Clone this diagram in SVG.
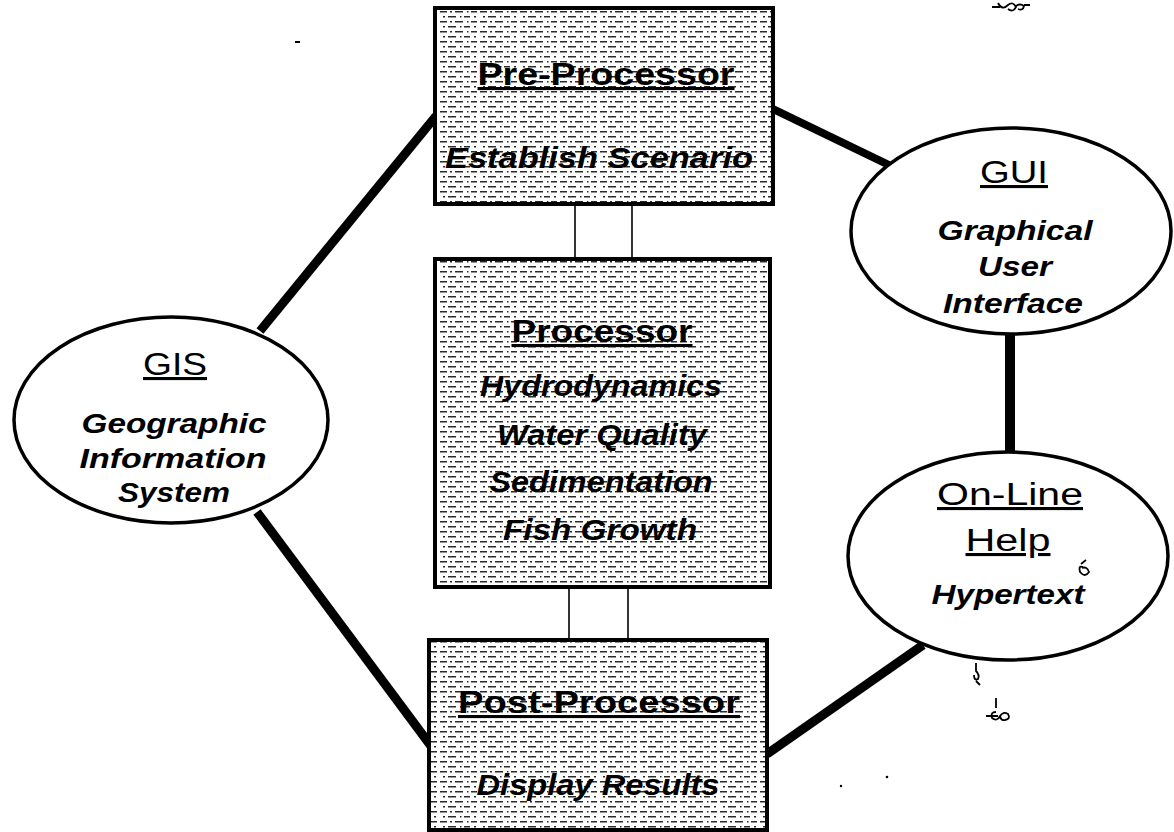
<svg xmlns="http://www.w3.org/2000/svg" width="1174" height="832" viewBox="0 0 1174 832">
  <defs>
    <!-- halftone screen of broken horizontal rows used inside the processing boxes -->
    <pattern id="screen" width="40" height="10" patternUnits="userSpaceOnUse">
      <rect width="40" height="10" fill="#ffffff"/>
      <g fill="#2a2a2a">
        <rect x="0" y="1" width="7" height="1.5"/>
        <rect x="10" y="1" width="2" height="1.5"/>
        <rect x="15" y="1" width="8" height="1.5"/>
        <rect x="27" y="1" width="1.5" height="1.5"/>
        <rect x="31" y="1" width="6" height="1.5"/>
        <rect x="3" y="6" width="2" height="1.5"/>
        <rect x="8" y="6" width="8" height="1.5"/>
        <rect x="20" y="6" width="1.5" height="1.5"/>
        <rect x="24" y="6" width="6" height="1.5"/>
        <rect x="34" y="6" width="2" height="1.5"/>
      </g>
    </pattern>
    <style>
      .box { fill: url(#screen); stroke: #000; stroke-width: 4; }
      .oval { fill: #fff; stroke: #000; stroke-width: 3.5; }
      .link { stroke: #000; stroke-width: 9; stroke-linecap: butt; fill: none; }
      .thin { stroke: #000; stroke-width: 1.6; fill: none; }
      text { font-family: "Liberation Sans", Arial, sans-serif; fill: #000; text-anchor: middle; }
      .btitle { font-size: 31px; font-weight: bold; text-decoration: underline; }
      .bsub { font-size: 30px; font-weight: bold; font-style: italic; }
      .otitle { font-size: 31px; text-decoration: underline; }
      .osub { font-size: 28px; font-weight: bold; font-style: italic; }
      .speck { fill: none; stroke: #000; stroke-width: 1.8; }
    </style>
  </defs>

  <!-- connectors -->
  <g id="connectors">
    <line class="link" x1="260" y1="331" x2="436" y2="116"/>
    <line class="link" x1="257" y1="512" x2="431" y2="746"/>
    <line class="link" x1="773" y1="109" x2="891" y2="166" style="stroke-width:8"/>
    <line class="link" x1="1010" y1="334" x2="1010" y2="453" style="stroke-width:10"/>
    <line class="link" x1="923" y1="645" x2="767" y2="754"/>
    <line class="thin" x1="575" y1="204" x2="575" y2="259"/>
    <line class="thin" x1="632" y1="204" x2="632" y2="259"/>
    <line class="thin" x1="569" y1="587" x2="569" y2="640"/>
    <line class="thin" x1="628" y1="587" x2="628" y2="640"/>
  </g>

  <g id="pre-processor">
    <rect class="box" x="435" y="8" width="338" height="196"/>
    <text class="btitle" x="606" y="85" textLength="257" lengthAdjust="spacingAndGlyphs">Pre-Processor</text>
    <text class="bsub" x="599" y="168" textLength="308" lengthAdjust="spacingAndGlyphs">Establish Scenario</text>
  </g>

  <g id="processor">
    <rect class="box" x="435" y="259" width="335" height="328"/>
    <text class="btitle" x="602" y="342" textLength="181" lengthAdjust="spacingAndGlyphs">Processor</text>
    <text class="bsub" x="601" y="396" textLength="242" lengthAdjust="spacingAndGlyphs">Hydrodynamics</text>
    <text class="bsub" x="602" y="445" textLength="210" lengthAdjust="spacingAndGlyphs">Water Quality</text>
    <text class="bsub" x="601" y="492" textLength="223" lengthAdjust="spacingAndGlyphs">Sedimentation</text>
    <text class="bsub" x="600" y="540" textLength="194" lengthAdjust="spacingAndGlyphs">Fish Growth</text>
  </g>

  <g id="post-processor">
    <rect class="box" x="429" y="640" width="338" height="190"/>
    <text class="btitle" x="599" y="713" textLength="282" lengthAdjust="spacingAndGlyphs">Post-Processor</text>
    <text class="bsub" x="598" y="795" textLength="243" lengthAdjust="spacingAndGlyphs">Display Results</text>
  </g>

  <g id="gis">
    <ellipse class="oval" cx="171" cy="420" rx="157" ry="103"/>
    <text class="otitle" x="175" y="375" textLength="64" lengthAdjust="spacingAndGlyphs">GIS</text>
    <text class="osub" x="174" y="433" textLength="185" lengthAdjust="spacingAndGlyphs">Geographic</text>
    <text class="osub" x="173" y="468" textLength="187" lengthAdjust="spacingAndGlyphs">Information</text>
    <text class="osub" x="174" y="502" textLength="112" lengthAdjust="spacingAndGlyphs">System</text>
  </g>

  <g id="gui">
    <ellipse class="oval" cx="1011" cy="231" rx="160" ry="103"/>
    <text class="otitle" x="1014" y="183" textLength="68" lengthAdjust="spacingAndGlyphs">GUI</text>
    <text class="osub" x="1015" y="240" textLength="155" lengthAdjust="spacingAndGlyphs">Graphical</text>
    <text class="osub" x="1015" y="276" textLength="74" lengthAdjust="spacingAndGlyphs">User</text>
    <text class="osub" x="1013" y="313" textLength="140" lengthAdjust="spacingAndGlyphs">Interface</text>
  </g>

  <g id="online-help">
    <ellipse class="oval" cx="1008" cy="556" rx="160" ry="104"/>
    <text class="otitle" x="1010" y="505" textLength="146" lengthAdjust="spacingAndGlyphs">On-Line</text>
    <text class="otitle" x="1008" y="551" textLength="85" lengthAdjust="spacingAndGlyphs">Help</text>
    <text class="osub" x="1008" y="604" textLength="153" lengthAdjust="spacingAndGlyphs">Hypertext</text>
  </g>

  <!-- stray pen marks -->
  <g id="marks">
    <path class="speck" d="M992 7 h8 M998 3 q4 8 10 2 q5 -4 8 2 q-3 6 -8 2 M1016 6 q4 -3 8 0 q-1 5 -6 3 M1024 5 h6"/>
    <path class="speck" d="M1084 568 q-6 -4 -4 4 q5 6 9 0 q-2 -6 -7 -4 M1081 564 l5 -4"/>
    <path class="speck" d="M976 663 v8 q4 4 2 8 q-4 2 -4 -4 M976 681 l4 4"/>
    <path class="speck" d="M996 698 v10 M986 716 h12 M996 712 q-6 0 -4 6 q5 4 8 -2 q3 -5 8 -2 q3 5 -3 6 q-4 1 -5 -4"/>
    <circle cx="887" cy="777" r="1.3" fill="#000"/>
    <circle cx="841" cy="786" r="1.2" fill="#000"/>
    <rect x="295" y="41" width="5" height="2" fill="#000"/>
  </g>
</svg>
